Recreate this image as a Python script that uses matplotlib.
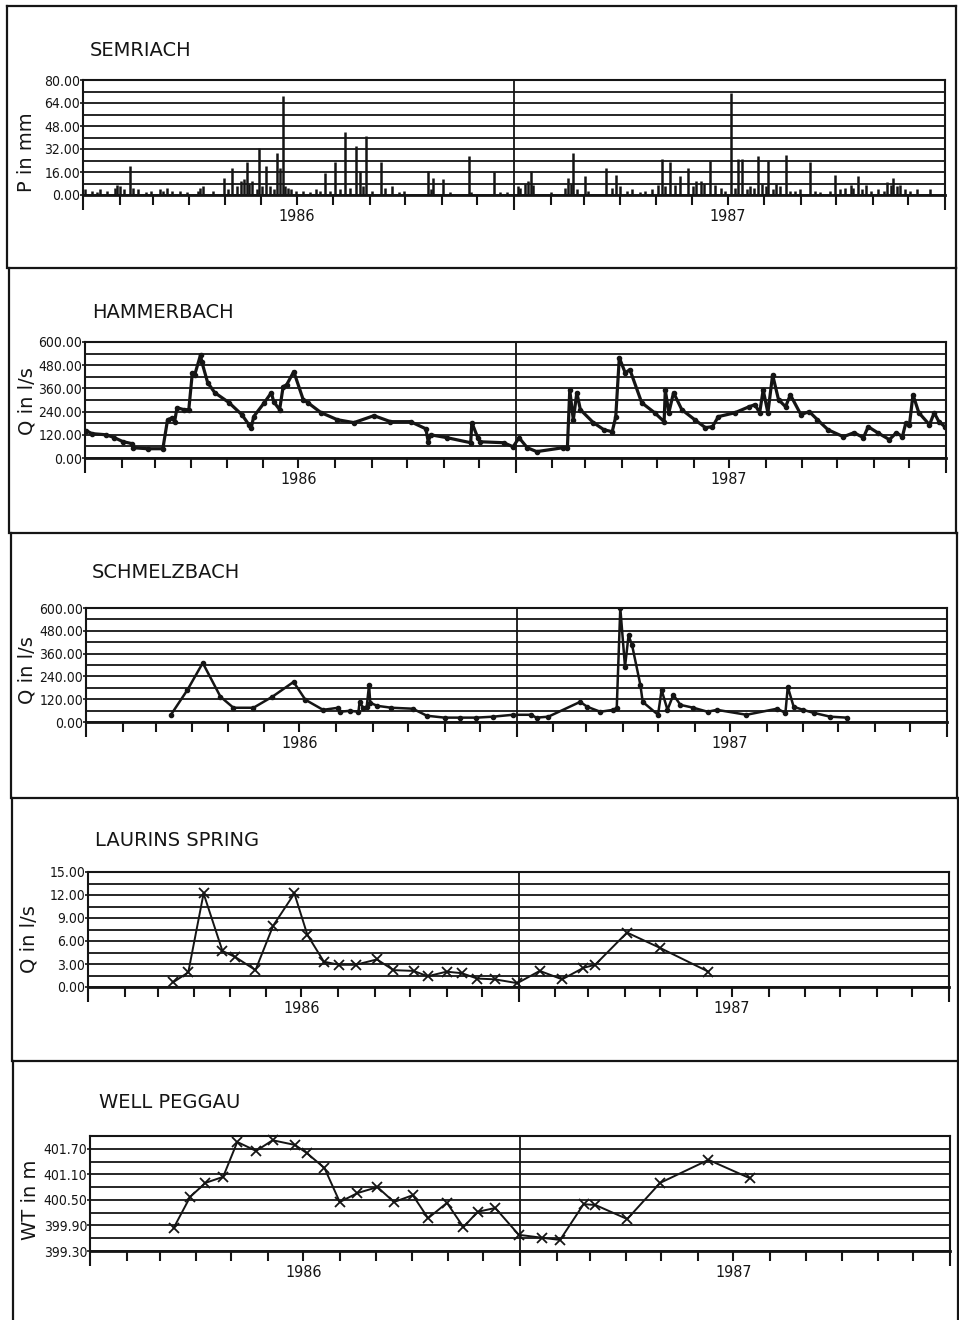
import numpy as np
import pandas as pd
import matplotlib
matplotlib.use("Agg")
import matplotlib.pyplot as plt
from matplotlib.lines import Line2D
from matplotlib import font_manager

# ---------------------------------------------------------------------------
# Data: x positions are days since 1 January 1986
# ---------------------------------------------------------------------------
# Semriach daily precipitation (mm)
rain_day = [2, 8, 12, 14, 20, 27, 29, 31, 35, 40, 42, 47,
            53, 58, 65, 68, 71, 75, 82, 88, 97, 99, 102, 110,
            119, 123, 126, 130, 134, 136, 139, 141, 143, 147, 149, 152,
            155, 158, 162, 164, 167, 169, 171, 174, 176, 180, 186, 192,
            197, 201, 205, 209, 213, 218, 222, 226, 231, 235, 237, 240,
            245, 252, 256, 262, 268, 272, 292, 295, 296, 305, 311, 327,
            329, 348, 353, 359, 368, 370, 374, 377, 379, 381, 396, 408,
            411, 413, 415, 418, 425, 428, 443, 448, 451, 455, 461, 465,
            472, 476, 482, 487, 490, 493, 497, 501, 506, 512, 517, 519,
            523, 526, 531, 535, 540, 544, 549, 552, 555, 558, 562, 565,
            568, 572, 575, 578, 580, 584, 587, 590, 595, 599, 603, 607,
            616, 620, 624, 633, 637, 641, 645, 650, 652, 656, 660, 663,
            667, 673, 678, 681, 684, 686, 689, 692, 696, 700, 706, 717]
rain_mm = [4, 3, 2, 4, 3, 5, 7, 6, 4, 20, 5, 4,
           2, 3, 4, 3, 5, 3, 3, 2, 3, 5, 6, 3,
           12, 4, 19, 6, 10, 11, 23, 8, 10, 4, 33, 6,
           20, 6, 4, 29, 19, 69, 6, 5, 4, 3, 3, 2,
           4, 3, 15, 3, 23, 4, 44, 5, 34, 17, 6, 41,
           3, 23, 5, 6, 2, 3, 17, 4, 12, 11, 2, 27,
           2, 16, 2, 2, 6, 5, 8, 10, 17, 7, 2, 5,
           12, 8, 29, 4, 13, 3, 19, 5, 14, 6, 3, 4,
           2, 3, 4, 7, 25, 6, 23, 7, 13, 19, 6, 10,
           10, 8, 24, 7, 5, 3, 71, 5, 25, 25, 4, 6,
           5, 27, 8, 6, 24, 4, 8, 6, 28, 3, 3, 4,
           23, 3, 2, 3, 14, 4, 5, 7, 5, 13, 4, 7,
           3, 4, 3, 9, 7, 12, 6, 7, 4, 3, 4, 4]

# Hammerbach discharge (l/s)
ham_day = [1, 6, 18, 25, 32, 40, 41, 53, 66, 70,
           74, 76, 78, 84, 88, 91, 93, 98, 99, 104,
           110, 122, 133, 139, 141, 143, 152, 158, 160, 165,
           168, 171, 177, 185, 189, 200, 214, 228, 245, 259,
           276, 289, 291, 293, 307, 327, 328, 333, 335, 355,
           363, 368, 375, 383, 405, 409, 411, 414, 417, 420,
           431, 440, 447, 450, 453, 458, 462, 472, 483, 491,
           492, 495, 499, 506, 517, 526, 532, 537, 551, 563,
           568, 572, 575, 579, 583, 588, 594, 598, 607, 614,
           621, 630, 643, 652, 660, 664, 672, 682, 688, 693,
           696, 699, 702, 707, 716, 720, 724, 729]
ham_q = [141, 126, 120, 105, 85, 74, 53, 48, 48, 198,
         208, 188, 260, 250, 250, 440, 430, 534, 498, 390,
         338, 287, 224, 172, 157, 214, 286, 338, 291, 250,
         369, 379, 447, 302, 286, 235, 198, 183, 219, 188,
         188, 151, 84, 120, 105, 79, 183, 105, 84, 79,
         58, 105, 53, 33, 53, 53, 352, 198, 338, 250,
         183, 146, 136, 214, 519, 441, 457, 286, 234, 188,
         352, 234, 338, 250, 198, 157, 162, 214, 234, 265,
         276, 234, 352, 234, 430, 302, 265, 327, 224, 240,
         198, 146, 110, 131, 105, 162, 131, 95, 131, 110,
         183, 172, 327, 234, 172, 234, 188, 162]

# Schmelzbach discharge (l/s)
sch_day = [72, 86, 99, 114, 125, 142, 158, 176, 186, 201,
           214, 215, 224, 231, 232, 235, 238, 240, 241, 247,
           259, 277, 289, 304, 317, 331, 345, 362, 377, 382,
           392, 419, 425, 436, 447, 450, 453, 457, 460, 463,
           470, 472, 485, 488, 493, 498, 504, 515, 527, 535,
           560, 586, 593, 595, 600, 608, 617, 631, 645]
sch_q = [38, 169, 311, 133, 75, 75, 133, 211, 117, 64,
         75, 54, 59, 54, 106, 75, 80, 196, 101, 85,
         75, 70, 33, 23, 23, 23, 28, 38, 38, 23,
         28, 106, 80, 54, 64, 75, 600, 290, 456, 404,
         196, 106, 38, 169, 64, 143, 90, 75, 54, 64,
         38, 70, 48, 185, 80, 64, 48, 28, 23]

# Laurins spring discharge (l/s)
lau_day = [72, 85, 98, 114, 125, 142, 157, 175, 186, 200, 213, 227, 245, 259,
           276, 288, 304, 317, 330, 345, 364, 383, 402, 420, 430, 457, 485, 526]
lau_q = [0.6, 1.9, 12.2, 4.7, 3.9, 2.2, 8.0, 12.2, 6.8, 3.3, 2.9, 2.9, 3.6, 2.2,
         2.1, 1.4, 2.0, 1.8, 1.1, 1.0, 0.5, 2.1, 1.0, 2.5, 2.9, 7.1, 5.1, 2.0]

# Well Peggau water table (m a.s.l.)
well_day = [71, 85, 98, 113, 125, 141, 155, 174, 184, 199, 212, 227, 244, 258, 274,
            287, 303, 317, 329, 344, 364, 384, 399, 419, 429, 456, 484, 525, 560]
well_wt = [399.84, 400.57, 400.90, 401.04, 401.86, 401.65, 401.90, 401.79, 401.60,
           401.25, 400.45, 400.66, 400.80, 400.45, 400.61, 400.07, 400.43, 399.86,
           400.22, 400.31, 399.68, 399.61, 399.56, 400.40, 400.38, 400.05, 400.90,
           401.44, 401.01]

titles = ["SEMRIACH", "HAMMERBACH", "SCHMELZBACH", "LAURINS SPRING", "WELL PEGGAU"]
ylabels = ["P in mm", "Q in l/s", "Q in l/s", "Q in l/s", "WT in m"]
years = ["1986", "1987"]

# ---------------------------------------------------------------------------
# Fonts: a narrow face for the numbers, if one is available
# ---------------------------------------------------------------------------
installed = {f.name for f in font_manager.fontManager.ttflist}
stretches = {(f.name, f.stretch) for f in font_manager.fontManager.ttflist}
if "Liberation Sans Narrow" in installed:
    NUM_FONT = dict(family=["Liberation Sans Narrow", "DejaVu Sans"])
    NUM_SIZE, YEAR_SIZE = 11.5, 12.5
elif any(n == "DejaVu Sans" and s == "condensed" for n, s in stretches):
    NUM_FONT = dict(family=["DejaVu Sans"], fontstretch="condensed")
    NUM_SIZE, YEAR_SIZE = 10, 11.5
else:
    NUM_FONT = dict(family=["DejaVu Sans"])
    NUM_SIZE, YEAR_SIZE = 9, 11

# ---------------------------------------------------------------------------
# Layout (pixel geometry of the page)
# ---------------------------------------------------------------------------
W, H = 959, 1320
fig = plt.figure(figsize=(W / 100, H / 100), dpi=100)
fig.patch.set_facecolor("white")
INK = "#151515"

# month boundaries and year centres in days since 1 Jan 1986
month_starts = (pd.date_range("1986-01-01", "1988-01-01", freq="MS")
                - pd.Timestamp("1986-01-01")).days.values
year_starts = [0, 365, 730]
year_mid = [181, 546]

# panel frames: (left, top, right, bottom)
frames = [(7, 6, 956, 268), (9, 268, 956, 533), (11, 533, 957, 798),
          (12, 798, 958, 1061), (13, 1061, 958, 1325)]
# plotting areas: (left, top, right, bottom)
boxes = [(83, 80, 945, 195), (85, 342, 946, 458), (86, 608, 947, 722),
         (88, 872, 949, 987), (90, 1136, 950, 1251)]
title_pos = [(90, 50), (92, 312), (92, 573), (95, 840), (99, 1103)]
ylabel_pos = [(27, 152), (27, 401), (27, 670), (29, 939), (31, 1200)]

# (ymin, ymax, grid step, label step)
yspecs = [(0, 80, 8, 16), (0, 600, 60, 120), (0, 600, 60, 120),
          (0, 15, 1.5, 3), (399.30, 402.00, 0.30, 0.60)]


def fx(x):
    return x / W


def fy(y):
    return 1 - y / H


# panel frames
for (l, t, r, b) in frames:
    for xs, ys in [((l, r), (t, t)), ((l, l), (t, b)), ((r, r), (t, b))]:
        fig.add_artist(Line2D([fx(xs[0]), fx(xs[1])], [fy(ys[0]), fy(ys[1])],
                              color=INK, lw=1.6, transform=fig.transFigure))

axes = []
for i, (l, t, r, b) in enumerate(boxes):
    ax = fig.add_axes([fx(l), fy(b), (r - l) / W, (b - t) / H])
    ymin, ymax, gstep, lstep = yspecs[i]
    ax.set_xlim(0, 730)
    ax.set_ylim(ymin, ymax)
    ax.set_facecolor("none")
    # horizontal grid
    for g in np.arange(ymin, ymax + gstep / 2, gstep):
        ax.axhline(g, color=INK, lw=1.3, zorder=1)
    # year separator
    ax.axvline(365, color=INK, lw=1.3, zorder=1)
    # y ticks
    yt = np.arange(ymin, ymax + gstep / 2, lstep)
    ax.set_yticks(yt)
    ax.set_yticklabels([f"{v:.2f}" for v in yt], fontsize=NUM_SIZE, **NUM_FONT)
    ax.tick_params(axis="y", direction="out", length=2, width=1.2, pad=0, colors=INK)
    # x ticks: months (minor) and years (major)
    ax.set_xticks(year_starts)
    ax.set_xticklabels([])
    ax.set_xticks(month_starts, minor=True)
    ax.tick_params(axis="x", which="major", direction="out", length=11, width=1.5, colors=INK)
    ax.tick_params(axis="x", which="minor", direction="out", length=7, width=1.5, colors=INK)
    for sp in ax.spines.values():
        sp.set_color(INK)
        sp.set_linewidth(1.5)
    ax.spines["bottom"].set_linewidth(2.0)
    # year labels
    for yr, xm in zip(years, year_mid):
        ax.annotate(yr, xy=(xm, 0), xycoords=("data", "axes fraction"),
                    xytext=(0, -10), textcoords="offset points",
                    ha="center", va="top", fontsize=YEAR_SIZE, color=INK, **NUM_FONT)
    # titles and axis labels
    tx, ty = title_pos[i]
    fig.text(fx(tx), fy(ty), titles[i], ha="left", va="center",
             fontsize=14, color=INK, family="DejaVu Sans")
    lx, ly = ylabel_pos[i]
    fig.text(fx(lx), fy(ly), ylabels[i], ha="center", va="center", rotation=90,
             fontsize=14, color=INK, family="DejaVu Sans")
    axes.append(ax)

# SEMRIACH: daily precipitation bars
axes[0].vlines(rain_day, 0, rain_mm, color=INK, lw=1.8, zorder=3)

# HAMMERBACH and SCHMELZBACH: discharge hydrographs
axes[1].plot(ham_day, ham_q, color=INK, lw=2.3, marker="o", ms=3, zorder=3)
axes[2].plot(sch_day, sch_q, color=INK, lw=1.8, marker="o", ms=3, zorder=3)

# LAURINS SPRING and WELL PEGGAU: sampled values
axes[3].plot(lau_day, lau_q, color=INK, lw=1.4, marker="x", ms=7, mew=1.3, zorder=3)
axes[4].plot(well_day, well_wt, color=INK, lw=1.4, marker="x", ms=7, mew=1.3, zorder=3,
             clip_on=False)

fig.savefig("out.png", dpi=100, facecolor="white")
